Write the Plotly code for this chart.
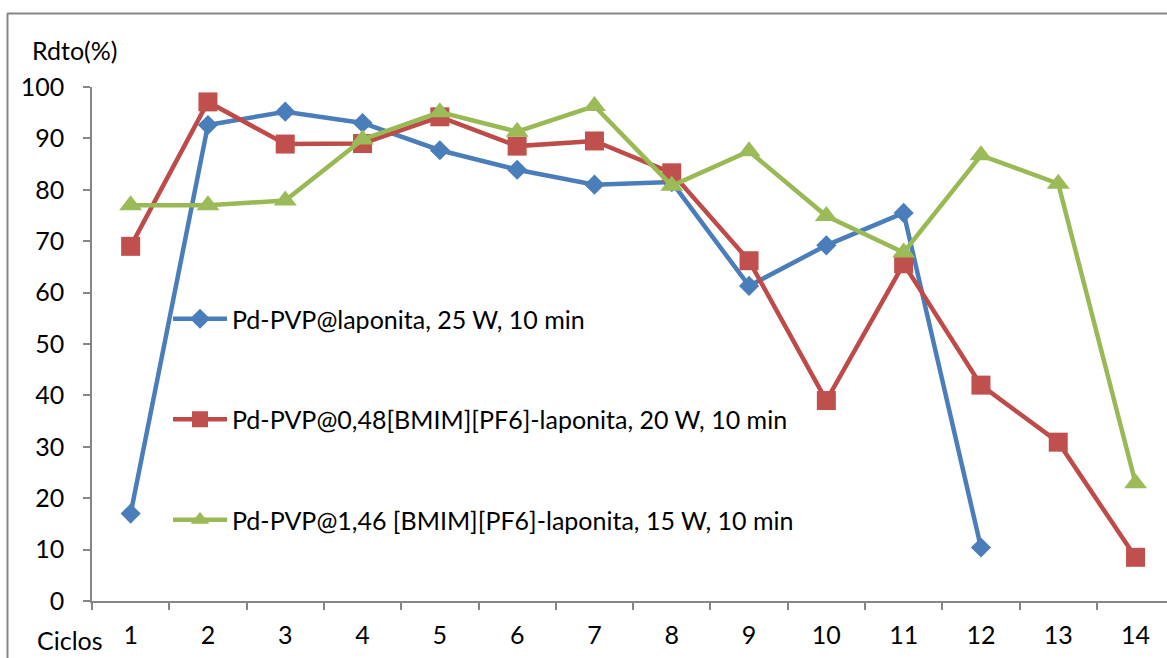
import plotly.graph_objects as go

ciclos = [str(i) for i in range(1, 15)]
blue_vals = [17, 92.6, 95.2, 93.0, 87.7, 83.9, 81.0, 81.5, 61.3, 69.2, 75.5, 10.4]
red_vals = [69, 97.1, 88.9, 89.0, 94.2, 88.5, 89.5, 83.3, 66.2, 39.0, 65.6, 42.0, 30.9, 8.5]
green_vals = [77.0, 77.0, 77.9, 89.8, 95.1, 91.3, 96.3, 80.8, 87.5, 74.9, 67.8, 86.7, 81.2, 22.9]

names = [
    "Pd-PVP@laponita, 25 W, 10 min",
    "Pd-PVP@0,48[BMIM][PF6]-laponita, 20 W, 10 min",
    "Pd-PVP@1,46 [BMIM][PF6]-laponita, 15 W, 10 min",
]
y_ticks = list(range(0, 101, 10))

FONT = "Lato, 'Open Sans', sans-serif"
FS = 25
W, H = 1167, 658
ML, MT, MB = 92, 87, 57
plot_w = W - ML
cat_w = 77.3
x_end = -0.5 + plot_w / cat_w

fig = go.Figure()
fig.add_trace(go.Scatter(
    x=ciclos[:len(blue_vals)], y=blue_vals, name=names[0], legendgroup="a",
    mode="lines+markers", line=dict(color="#4A7EBB", width=4.5),
    marker=dict(symbol="diamond", size=15.5, color="#4A7EBB", line=dict(width=0)),
))
fig.add_trace(go.Scatter(
    x=ciclos, y=red_vals, name=names[1], legendgroup="b",
    mode="lines+markers", line=dict(color="#BE4B48", width=4.5),
    marker=dict(symbol="square", size=19, color="#C0504D", line=dict(width=0)),
))
fig.add_trace(go.Scatter(
    x=ciclos, y=green_vals, name=names[2], legendgroup="c",
    mode="lines+markers", line=dict(color="#98B954", width=4.5),
    marker=dict(symbol="triangle-up", size=20, color="#9BBB59", line=dict(width=0)),
))

axis_col = "#868686"
fig.update_layout(
    width=W, height=H,
    margin=dict(l=ML, r=0, t=MT, b=MB),
    paper_bgcolor="white", plot_bgcolor="white",
    font=dict(family=FONT, size=FS, color="black"),
    showlegend=True,
    legend=dict(
        x=(168 - ML) / plot_w, y=(601 - 296) / 514, xanchor="left", yanchor="top",
        bgcolor="rgba(0,0,0,0)", tracegroupgap=65, itemwidth=54,
        font=dict(family=FONT, size=FS, color="black"),
    ),
    xaxis=dict(
        type="category", categoryorder="array", categoryarray=ciclos,
        range=[-0.5, x_end], tickson="boundaries", ticks="outside", ticklen=7,
        tickcolor=axis_col, tickwidth=1.5, showline=True, linecolor=axis_col, linewidth=1.5,
        showgrid=False, zeroline=False, ticklabelstandoff=11,
        tickfont=dict(family=FONT, size=FS, color="black"),
    ),
    yaxis=dict(
        range=[0, 100], tickvals=y_ticks, ticks="outside", ticklen=7,
        tickcolor=axis_col, tickwidth=1.5, showline=True, linecolor=axis_col, linewidth=1.5,
        showgrid=False, zeroline=False, ticklabelstandoff=14,
        tickfont=dict(family=FONT, size=FS, color="black"),
    ),
)

def px_x(p):
    return (p - ML) / plot_w

def px_y(p):
    return (601 - p) / 514

fig.add_annotation(text="Rdto(%)", x=px_x(30), y=px_y(50), xref="paper", yref="paper",
                   xanchor="left", yanchor="middle", showarrow=False,
                   font=dict(family=FONT, size=FS, color="black"))
fig.add_annotation(text="Ciclos", x=px_x(70), y=px_y(640), xref="paper", yref="paper",
                   xanchor="center", yanchor="middle", showarrow=False,
                   font=dict(family=FONT, size=FS, color="black"))

fig.add_shape(type="line", xref="paper", yref="paper", x0=px_x(7), x1=px_x(1167),
              y0=px_y(13.5), y1=px_y(13.5), line=dict(color=axis_col, width=2))
fig.add_shape(type="line", xref="paper", yref="paper", x0=px_x(7.5), x1=px_x(7.5),
              y0=px_y(13.5), y1=px_y(660), line=dict(color=axis_col, width=2))

fig.write_html("out.html", config={"displayModeBar": False},
               post_script="document.body.style.margin='0';document.body.style.overflow='hidden';")
